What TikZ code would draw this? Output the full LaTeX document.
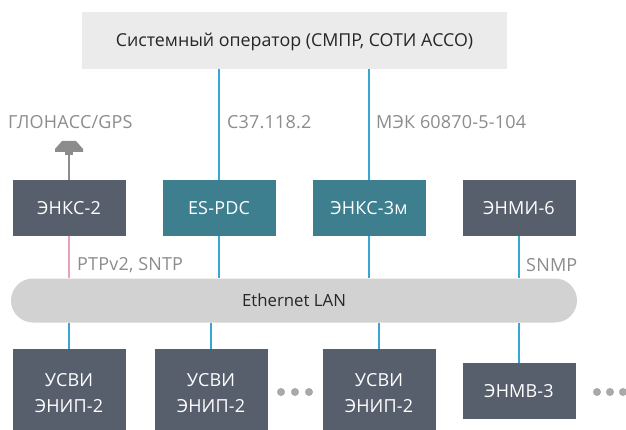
\documentclass[tikz,border=0pt]{standalone}
\usepackage{fontspec}
\setmainfont{Open Sans}[LetterSpace=1]
\definecolor{slatebox}{HTML}{585F6C}
\definecolor{tealbox}{HTML}{3D7E8F}
\definecolor{linkblue}{HTML}{36A7D3}
\definecolor{linkpink}{HTML}{E8A0BF}
\definecolor{labelgrey}{HTML}{8C8C8C}
\definecolor{topgrey}{HTML}{EBEBEB}
\definecolor{langrey}{HTML}{D2D2D2}
\definecolor{dotgrey}{HTML}{A9A9A9}
\tikzset{x=1pt,y=-1pt,
 boxbase/.style={draw=none,minimum height=#1,inner sep=0pt,align=center,font=\fontsize{18}{26}\selectfont,text=white},
 slate/.style={boxbase=56,fill=slatebox,minimum width=113},
 teal/.style={boxbase=56,fill=tealbox,minimum width=113},
 tall/.style={boxbase=88,fill=slatebox,minimum width=113},
 lbl/.style={text=labelgrey,font=\fontsize{18}{20}\selectfont,inner sep=0pt,anchor=west},
 blink/.style={draw=linkblue,line width=2.2pt},
 dotn/.style={circle,fill=dotgrey,minimum size=8,inner sep=0pt}}
\begin{document}
\begin{tikzpicture}
\useasboundingbox (0,0) rectangle (626,430);
\node[fill=topgrey,minimum width=425,minimum height=57,inner sep=0pt] (top) at (294.5,40.5) {};
\node[inner sep=0pt,font=\addfontfeature{LetterSpace=0}\fontsize{17.8}{20}\selectfont,text=black!85] (toplabel) at (294.5,41.5) {Системный оператор (СМПР, СОТИ АССО)};
\node[fill=langrey,minimum width=566,minimum height=44,rounded corners=22pt,inner sep=0pt,font=\addfontfeature{LetterSpace=0}\fontsize{16.8}{18}\selectfont,text=black!85] (lan) at (294,300.5) {Ethernet LAN};
\node[slate] (enks2) at (69,208) {ЭНКС-2};
\node[teal] (pdc) at (219,208) {ES-PDC};
\node[teal] (enks3) at (369,208) {ЭНКС-3м};
\node[slate] (enmi) at (519,208) {ЭНМИ-6};
\node[tall] (u1) at (69,393) {УСВИ\\ЭНИП-2};
\node[tall] (u2) at (211,393) {УСВИ\\ЭНИП-2};
\node[tall] (u3) at (379,393) {УСВИ\\ЭНИП-2};
\node[slate] (enmv) at (519,391) {ЭНМВ-3};
\coordinate (ant) at (69,153);
\coordinate (t1) at (219,69);
\coordinate (t2) at (369,69);
\draw[blink] (t1) -- (pdc.north);
\draw[blink] (t2) -- (enks3.north);
\draw[draw=linkpink,line width=2.2pt] (enks2.south) -- (enks2.south |- lan.north);
\draw[blink] (pdc.south) -- (pdc.south |- lan.north);
\draw[blink] (enks3.south) -- (enks3.south |- lan.north);
\draw[blink] (enmi.south) -- (enmi.south |- lan.north);
\draw[blink] (u1.north) -- (u1.north |- lan.south);
\draw[blink] (u2.north) -- (u2.north |- lan.south);
\draw[blink] (u3.north) -- (u3.north |- lan.south);
\draw[blink] (enmv.north) -- (enmv.north |- lan.south);
\draw[draw=labelgrey,line width=2pt] (enks2.north) -- (ant);
\fill[labelgrey] (55,152) -- (55,149) -- (62,141) -- (76,141) -- (83,149) -- (83,152) -- cycle;
\fill[labelgrey] (65,152) rectangle (73,155);
\node[lbl] (l1) at (8,122.5) {ГЛОНАСС/GPS};
\node[lbl] (l2) at (227,122.5) {C37.118.2};
\node[lbl] (l3) at (376,122.5) {МЭК 60870-5-104};
\node[lbl] (l4) at (77,265) {PTPv2, SNTP};
\node[lbl] (l5) at (526,265) {SNMP};
\foreach \n/\x in {a/281,b/295,c/309,d/597,e/610,f/623}
 \node[dotn] (dot\n) at (\x,392) {};
\end{tikzpicture}
\end{document}
